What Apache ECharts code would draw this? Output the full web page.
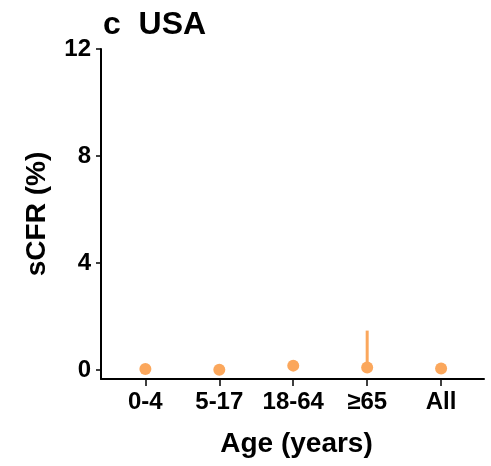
<!DOCTYPE html>
<html><head><meta charset="utf-8">
<script src="https://cdn.jsdelivr.net/npm/echarts@6/dist/echarts.min.js"></script>
<style>html,body{margin:0;padding:0;background:#fff}#c{width:491px;height:466px}</style>
</head><body><div id="c"></div>
<script>
const categories = ['0-4', '5-17', '18-64', '\u226565', 'All'];
const sCFR = [0.03, 0.01, 0.16, 0.09, 0.05];
const ciLow = [0.02, 0.005, 0.14, 0.05, 0.04];
const ciHigh = [0.05, 0.02, 0.18, 1.47, 0.07];
const yTicks = [0, 4, 8, 12];

const font = 'Liberation Sans, Arial, sans-serif';
const col = '#FBA75C';
const chart = echarts.init(document.getElementById('c'));
chart.setOption({
  animation: false,
  title: {text: 'c  USA', left: 98, top: 4, textStyle: {fontFamily: font, fontWeight: 'bold', fontSize: 32, color: '#000'}},
  grid: {left: 101, right: 7, top: 49, bottom: 87, containLabel: false},
  xAxis: {
    type: 'value', min: -0.6, max: 4.58,
    name: 'Age (years)', nameLocation: 'middle', nameGap: 51,
    nameTextStyle: {fontFamily: font, fontWeight: 'bold', fontSize: 28, color: '#000', padding: [0, 0, 0, 8]},
    axisLine: {show: true, onZero: false, lineStyle: {color: '#000', width: 2}},
    axisTick: {show: true, length: 7, lineStyle: {color: '#000', width: 1.5}, customValues: categories.map((c, i) => i)},
    axisLabel: {customValues: categories.map((c, i) => i), formatter: v => categories[Math.round(v)], margin: 11,
      fontFamily: font, fontWeight: 'bold', fontSize: 24, color: '#000'},
    splitLine: {show: false}
  },
  yAxis: {
    type: 'value', min: -0.34, max: 12,
    name: 'sCFR (%)', nameLocation: 'middle', nameGap: 50,
    nameTextStyle: {fontFamily: font, fontWeight: 'bold', fontSize: 28, color: '#000'},
    axisLine: {show: true, onZero: false, lineStyle: {color: '#000', width: 2}},
    axisTick: {show: true, length: 5, lineStyle: {color: '#000', width: 1.5}, customValues: yTicks},
    axisLabel: {customValues: yTicks, margin: 10, fontFamily: font, fontWeight: 'bold', fontSize: 24, color: '#000'},
    splitLine: {show: false}
  },
  series: [
    {
      type: 'custom',
      data: categories.map((c, i) => [i, ciLow[i], ciHigh[i]]),
      renderItem: (params, api) => {
        const a = api.coord([api.value(0), api.value(1)]);
        const b = api.coord([api.value(0), api.value(2)]);
        return {type: 'line', shape: {x1: a[0], y1: a[1], x2: b[0], y2: b[1]}, style: {stroke: col, lineWidth: 3}};
      },
      z: 2
    },
    {
      type: 'scatter',
      data: categories.map((c, i) => [i, sCFR[i]]),
      symbol: 'circle', symbolSize: 12,
      itemStyle: {color: col, opacity: 1},
      z: 3
    }
  ]
});
</script></body></html>
